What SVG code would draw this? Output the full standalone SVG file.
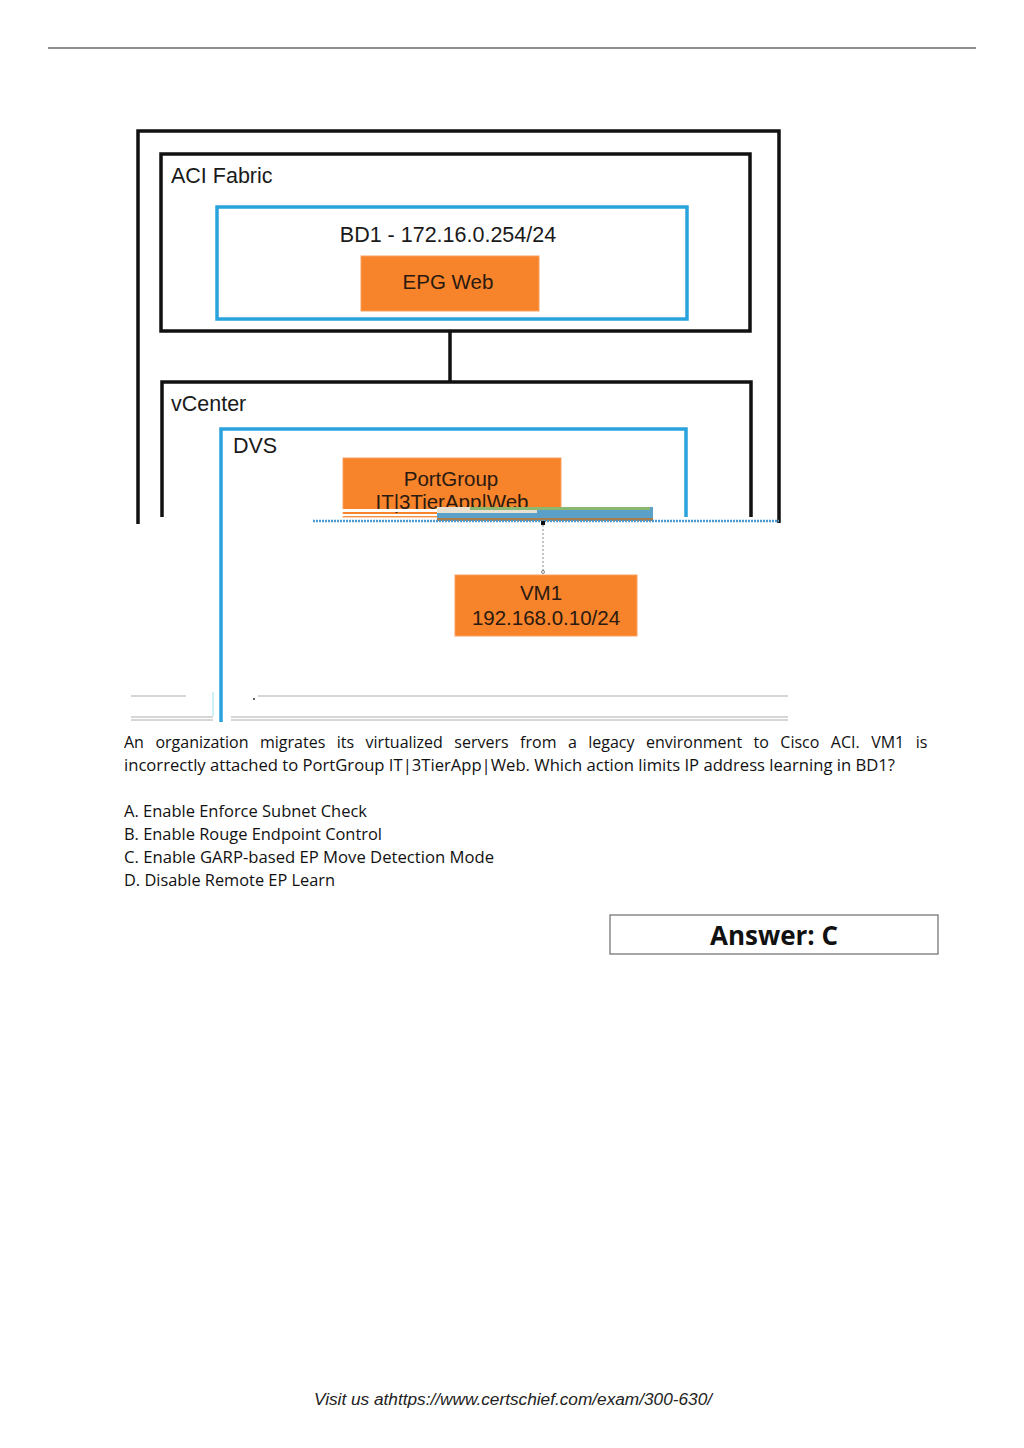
<svg xmlns="http://www.w3.org/2000/svg" width="1024" height="1448" viewBox="0 0 1024 1448">
<style>
.blk{fill:none;stroke:#111;stroke-width:3.5}
.blu{fill:none;stroke:#2aa3dd;stroke-width:3.5}
.org{fill:#f7832b;stroke:#f9a060;stroke-width:1}
.lbl{font-family:"Liberation Sans",Arial,sans-serif;font-size:21.5px;fill:#1a1a1a}
.olbl{font-family:"Liberation Sans",Arial,sans-serif;font-size:20.5px;fill:#2a1a10;text-anchor:middle}
.body{font-family:"Open Sans","Liberation Sans",sans-serif;font-size:16px;fill:#111}
.gray{stroke:#c8c8c8;stroke-width:1.5}
</style>
<rect width="1024" height="1448" fill="#fff"/>
<line x1="48" y1="48" x2="976" y2="48" stroke="#222" stroke-width="1.2"/>

<g id="outer-frame">
<path class="blk" d="M138 524 V131 H779 V523"/>
</g>

<g id="aci-fabric">
<rect class="blk" x="161" y="154" width="589" height="177"/>
<text class="lbl" x="171" y="183">ACI Fabric</text>
</g>
<g id="bd1">
<rect class="blu" x="217" y="207" width="470" height="112"/>
<text class="lbl" x="448" y="242" text-anchor="middle" font-size="19.7">BD1 - 172.16.0.254/24</text>
</g>
<g id="epg-web">
<rect class="org" x="361" y="256" width="178" height="55"/>
<text class="olbl" x="448" y="289">EPG Web</text>
</g>

<g id="vcenter">
<path class="blk" d="M162 517 V382 H751 V517"/>
<text class="lbl" x="171" y="411">vCenter</text>
</g>
<g id="dvs">
<path class="blu" d="M221 722 V429 H686 V517"/>
<text class="lbl" x="233" y="453" font-size="20">DVS</text>
</g>
<g id="portgroup">
<rect class="org" x="343" y="458" width="218" height="59"/>
<text class="olbl" x="451" y="486">PortGroup</text>
<text class="olbl" x="452" y="509">IT|3TierApp|Web</text>
</g>

<g id="glitch">
<rect x="313" y="509" width="124" height="3" fill="#fff"/>
<rect x="313" y="514" width="124" height="2" fill="#fff"/>
<rect x="437" y="507" width="216" height="13" fill="#5aa0c8"/>
<rect x="437" y="507" width="100" height="6" fill="#e8e0d0"/>
<rect x="470" y="507" width="180" height="3" fill="#8ab870"/>
<rect x="437" y="518" width="216" height="3" fill="#b07a40"/>
<line x1="313" y1="521" x2="779" y2="521" stroke="#4a9ad0" stroke-width="2.5" stroke-dasharray="2 1"/>
</g>

<g id="connectors">
<line x1="450" y1="331" x2="450" y2="382" stroke="#111" stroke-width="3.5"/>
<rect x="541" y="521" width="4" height="4" fill="#111"/>
<line x1="543" y1="525" x2="543" y2="572" stroke="#888" stroke-width="1" stroke-dasharray="2 2"/>
<circle cx="543" cy="572" r="1.5" fill="none" stroke="#666" stroke-width="0.8"/>
</g>

<g id="vm1">
<rect class="org" x="455" y="575" width="182" height="61"/>
<text class="olbl" x="541" y="600">VM1</text>
<text class="olbl" x="546" y="625">192.168.0.10/24</text>
</g>

<g id="bottom-lines">
<line class="gray" x1="131" y1="696" x2="186" y2="696"/>
<line class="gray" x1="258" y1="696" x2="788" y2="696"/>
<line class="gray" x1="131" y1="717" x2="213" y2="717"/>
<line class="gray" x1="131" y1="720" x2="213" y2="720"/>
<line class="gray" x1="231" y1="717" x2="788" y2="717"/>
<line class="gray" x1="231" y1="720" x2="788" y2="720"/>
<line x1="213" y1="692" x2="213" y2="716" stroke="#9fe0f0" stroke-width="1"/>
<circle cx="254" cy="699" r="1" fill="#333"/>
</g>

<g id="question">
<text class="body" x="124" y="748" word-spacing="7.3">An organization migrates its virtualized servers from a legacy environment to Cisco ACI. VM1 is</text>
<text class="body" x="124" y="771" textLength="771" lengthAdjust="spacingAndGlyphs">incorrectly attached to PortGroup IT|3TierApp|Web. Which action limits IP address learning in BD1?</text>
<text class="body" x="124" y="817" textLength="243" lengthAdjust="spacingAndGlyphs">A. Enable Enforce Subnet Check</text>
<text class="body" x="124" y="840" textLength="258" lengthAdjust="spacingAndGlyphs">B. Enable Rouge Endpoint Control</text>
<text class="body" x="124" y="863" textLength="370" lengthAdjust="spacingAndGlyphs">C. Enable GARP-based EP Move Detection Mode</text>
<text class="body" x="124" y="886" textLength="211" lengthAdjust="spacingAndGlyphs">D. Disable Remote EP Learn</text>
</g>

<g id="answer">
<rect x="610" y="915" width="328" height="39" fill="#fff" stroke="#777" stroke-width="1.3"/>
<text x="774" y="945" text-anchor="middle" font-family="'Open Sans','Liberation Sans',sans-serif" font-weight="bold" font-size="26" fill="#111">Answer: C</text>
</g>

<text x="513" y="1405" text-anchor="middle" font-family="'Liberation Sans',Arial,sans-serif" font-style="italic" font-size="16" fill="#222" textLength="398" lengthAdjust="spacingAndGlyphs">Visit us athttps://www.certschief.com/exam/300-630/</text>
</svg>
